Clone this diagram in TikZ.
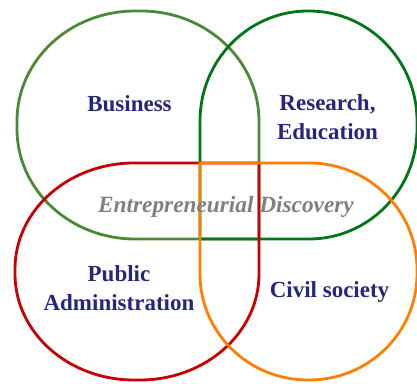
\documentclass[tikz,border=0pt]{standalone}
\usepackage{fontspec}
\setmainfont{Liberation Serif}
\definecolor{cbus}{RGB}{74,138,52}
\definecolor{cres}{RGB}{0,118,24}
\definecolor{cpub}{RGB}{200,0,0}
\definecolor{cciv}{RGB}{255,128,0}
\definecolor{ctxt}{RGB}{38,38,122}
\definecolor{cgray}{RGB}{128,128,128}
\tikzset{
  leaf/.style={line width=2.8pt},
  lab/.style={anchor=base, inner sep=0pt, text=ctxt, font=\fontsize{23}{28.5}\selectfont\bfseries},
  mid/.style={anchor=base, inner sep=0pt, text=cgray, font=\fontsize{23.3}{28.5}\selectfont\bfseries\itshape}
}
\begin{document}
\begin{tikzpicture}[x=1pt,y=1pt]
\useasboundingbox (0,0) rectangle (417,383);
% Business: x 17..259, y 144..372, square corner bottom-right
\def\rx{118}\def\ry{110}
\draw[leaf, cbus] (259,144) -- (17+\rx,144) arc[start angle=270,end angle=180,x radius=\rx,y radius=\ry]
  -- (17,372-\ry) arc[start angle=180,end angle=90,x radius=\rx,y radius=\ry]
  -- (259-\rx,372) arc[start angle=90,end angle=0,x radius=\rx,y radius=\ry] -- cycle;
% Research: x 200..417, y 144..372, square corner bottom-left
\def\rx{108}\def\ry{110}
\draw[leaf, cres] (200,144) -- (200,372-\ry) arc[start angle=180,end angle=90,x radius=\rx,y radius=\ry]
  -- (417-\rx,372) arc[start angle=90,end angle=0,x radius=\rx,y radius=\ry]
  -- (417,144+\ry) arc[start angle=0,end angle=-90,x radius=\rx,y radius=\ry] -- cycle;
% Public: x 15..259, y 3..220, square corner top-right
\def\rx{119}\def\ry{106}
\draw[leaf, cpub] (259,220) -- (15+\rx,220) arc[start angle=90,end angle=180,x radius=\rx,y radius=\ry]
  -- (15,3+\ry) arc[start angle=180,end angle=270,x radius=\rx,y radius=\ry]
  -- (259-\rx,3) arc[start angle=270,end angle=360,x radius=\rx,y radius=\ry] -- cycle;
% Civil: x 200..417, y 3..220, square corner top-left
\def\rx{108}\def\ry{106}
\draw[leaf, cciv] (200,220) -- (417-\rx,220) arc[start angle=90,end angle=0,x radius=\rx,y radius=\ry]
  -- (417,3+\ry) arc[start angle=0,end angle=-90,x radius=\rx,y radius=\ry]
  -- (200+\rx,3) arc[start angle=270,end angle=180,x radius=\rx,y radius=\ry] -- cycle;
\node[lab] (bus) at (129.5,271.3) {Business};
\node[lab] (res) at (327.5,272) {\begin{tabular}[t]{@{}c@{}}Research,\\Education\end{tabular}};
\node[lab] (pub) at (119,101.3) {\begin{tabular}[t]{@{}c@{}}Public\\Administration\end{tabular}};
\node[lab] (civ) at (329.5,86) {Civil society};
\node[mid] (ent) at (226,171) {Entrepreneurial Discovery};
\end{tikzpicture}
\end{document}
